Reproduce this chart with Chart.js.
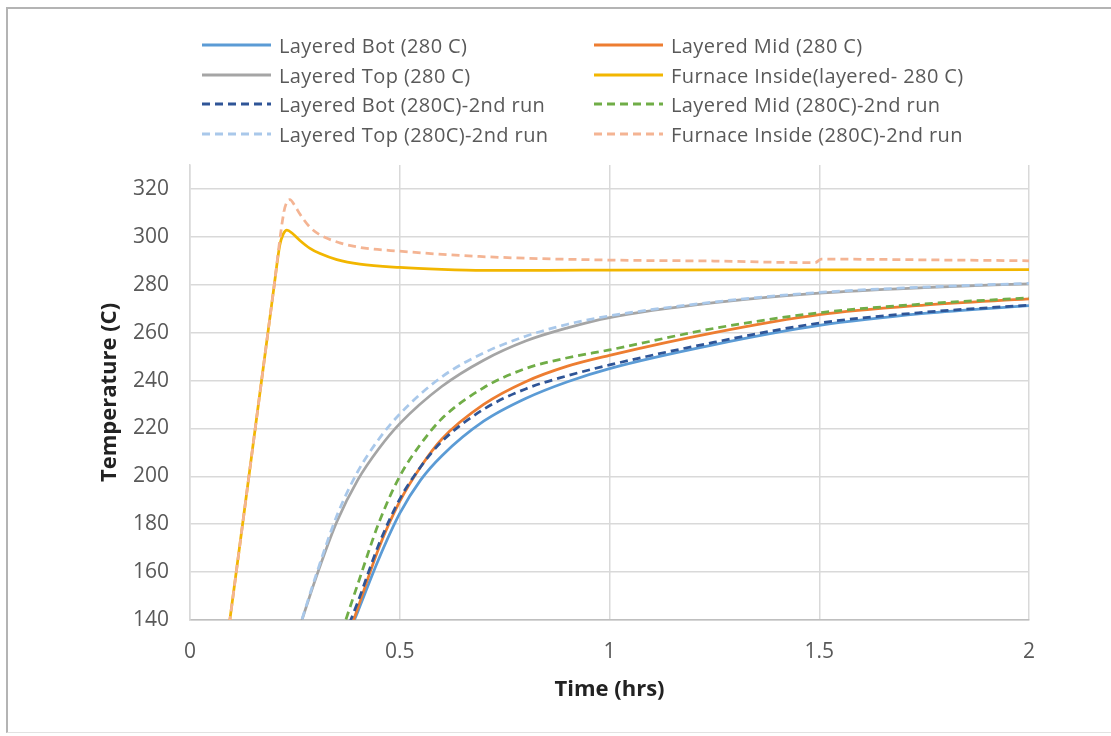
<!DOCTYPE html>
<html>
<head>
<meta charset="utf-8">
<script src="https://cdn.jsdelivr.net/npm/chart.js@4.4.1/dist/chart.umd.min.js"></script>
<style>
  html, body { margin: 0; padding: 0; background: #fff; }
  #wrap { position: relative; width: 1111px; height: 736px; overflow: hidden; }
  #frame { position: absolute; left: 6px; top: 7px; width: 1120px; height: 723px;
           border-left: 2px solid #b4b4b4; border-top: 2px solid #b4b4b4; border-bottom: 1px solid #e2e2e2; }
  #chart { position: absolute; left: 0; top: 0; }
  #legend { position: absolute; left: 0; top: 0; font-family: "Open Sans", sans-serif; font-size: 20px;
            letter-spacing: 0.4px; color: #595959; }
  .item { position: absolute; height: 28px; display: flex; align-items: center; white-space: nowrap; }
  .item svg { margin-right: 8px; }
</style>
</head>
<body>
<div id="wrap">
  <div id="frame"></div>
  <canvas id="chart" width="1111" height="736"></canvas>
  <div id="legend"></div>
</div>
<script>
// series names (legend order, two columns)
const seriesNames = [
  'Layered Bot (280 C)', 'Layered Mid (280 C)',
  'Layered Top (280 C)', 'Furnace Inside(layered- 280 C)',
  'Layered Bot (280C)-2nd run', 'Layered Mid (280C)-2nd run',
  'Layered Top (280C)-2nd run', 'Furnace Inside (280C)-2nd run'
];

// time (hrs) / temperature (C)
const botTime = [0, 0.2, 0.3, 0.35, 0.4, 0.45, 0.5, 0.55, 0.6, 0.7, 0.8, 0.9, 1.0, 1.25, 1.5, 1.75, 2.0];
const botTemp = [25, 55, 100, 122, 143.5, 165.5, 184.5, 198.5, 208.5, 223, 232.5, 239.5, 245, 255, 263, 268, 271.3];

const midTime = [0, 0.2, 0.3, 0.35, 0.4, 0.45, 0.5, 0.55, 0.6, 0.7, 0.8, 0.9, 1.0, 1.25, 1.5, 1.75, 2.0];
const midTemp = [25, 55, 98, 120, 145, 170, 189.5, 204, 215.5, 230, 239.5, 246, 250.5, 260, 267.5, 271.5, 274.1];

const topTime = [0, 0.1, 0.2, 0.25, 0.3, 0.35, 0.4, 0.45, 0.5, 0.6, 0.7, 0.8, 0.9, 1.0, 1.25, 1.5, 1.75, 2.0];
const topTemp = [25, 58, 106, 131, 157.5, 181, 198.5, 211.5, 222, 237.5, 248.5, 256.5, 262, 266.3, 272.5, 276.5, 278.8, 280.4];

const furnTime = [0, 0.095, 0.15, 0.2, 0.214, 0.222, 0.231, 0.245, 0.262, 0.286, 0.31, 0.35, 0.405, 0.5, 0.6, 0.7, 0.85, 1.0, 1.5, 2.0];
const furnTemp = [20, 140, 212.7, 278.8, 296.5, 301, 302.8, 301.3, 298.5, 295.2, 293, 290.5, 288.6, 287.2, 286.4, 286, 286, 286.1, 286.2, 286.3];

const bot2Time = [0, 0.2, 0.3, 0.35, 0.4, 0.45, 0.5, 0.55, 0.6, 0.7, 0.8, 0.9, 1.0, 1.25, 1.5, 1.75, 2.0];
const bot2Temp = [25, 57, 103, 125.5, 147.5, 171.5, 190.5, 204, 214.5, 228, 236.5, 242, 246.5, 256, 264, 268.5, 271.5];

const mid2Time = [0, 0.2, 0.3, 0.35, 0.4, 0.45, 0.5, 0.55, 0.6, 0.7, 0.8, 0.9, 1.0, 1.25, 1.5, 1.75, 2.0];
const mid2Temp = [25, 60, 105, 129, 155, 180.5, 200, 213.5, 224, 237, 245, 249.5, 252.8, 261.8, 268.3, 272, 274.5];

const top2Time = [0, 0.1, 0.2, 0.25, 0.3, 0.35, 0.4, 0.45, 0.5, 0.6, 0.7, 0.8, 0.9, 1.0, 1.25, 1.5, 1.75, 2.0];
const top2Temp = [25, 58, 106, 131, 158.5, 183.5, 202, 215.5, 226, 241.5, 251.5, 258.5, 263.5, 267, 272.8, 276.8, 279, 280.6];

const furn2Time = [0, 0.095, 0.15, 0.2, 0.224, 0.232, 0.238, 0.25, 0.262, 0.286, 0.31, 0.357, 0.405, 0.5, 0.69, 1.0, 1.25, 1.49, 1.505, 1.75, 2.0];
const furn2Temp = [20, 140, 212.7, 278.8, 310.5, 314.8, 315.5, 313, 309.5, 304, 300.8, 297.5, 295.6, 294, 291.8, 290.3, 289.9, 289.2, 290.7, 290.4, 290];

const xTicks = [0, 0.5, 1, 1.5, 2];

const colors = ['#5b9bd5', '#ed7d31', '#a5a5a5', '#f2b600', '#2f5597', '#70ad47', '#a9c8ea', '#f4b493'];
const dashed = [false, false, false, false, true, true, true, true];

const pts = (t, v) => t.map((x, i) => ({ x: x, y: v[i] }));
const series = [
  pts(botTime, botTemp), pts(midTime, midTemp), pts(topTime, topTemp), pts(furnTime, furnTemp),
  pts(bot2Time, bot2Temp), pts(mid2Time, mid2Temp), pts(top2Time, top2Temp), pts(furn2Time, furn2Temp)
];

const datasets = series.map((d, i) => ({
  label: seriesNames[i],
  data: d,
  borderColor: colors[i],
  borderWidth: 2.75,
  borderDash: dashed[i] ? [8, 5] : [],
  pointRadius: 0,
  fill: false,
  cubicInterpolationMode: 'monotone',
  order: 8 - i
}));

const grid = '#d9d9d9';
const tickFont = { family: '"Open Sans", sans-serif', size: 21 };
const titleFont = { family: '"Open Sans", sans-serif', size: 22, weight: 'bold' };

const chart = new Chart(document.getElementById('chart'), {
  type: 'line',
  data: { datasets: datasets },
  options: {
    responsive: false,
    animation: false,
    layout: { padding: { left: 97, top: 165, right: 82, bottom: 33 } },
    plugins: { legend: { display: false }, tooltip: { enabled: false } },
    scales: {
      x: {
        type: 'linear', min: 0, max: 2,
        afterBuildTicks: s => { s.ticks = xTicks.map(v => ({ value: v })); },
        afterFit: s => { s.height = 83; },
        grid: { color: grid, lineWidth: 1.5, drawTicks: false },
        border: { color: '#bfbfbf', width: 1.5 },
        ticks: { font: tickFont, color: '#595959', padding: 19, callback: v => String(v) },
        title: { display: true, text: 'Time (hrs)', font: titleFont, color: '#222', padding: 0 }
      },
      y: {
        min: 140, max: 330,
        ticks: { stepSize: 20, font: tickFont, color: '#595959', padding: 21 },
        afterBuildTicks: s => { s.ticks = s.ticks.filter(t => t.value <= 320); },
        afterFit: s => { s.width = 93; },
        grid: { color: grid, lineWidth: 1.5, drawTicks: false },
        border: { color: grid, width: 1.5 },
        title: { display: true, text: 'Temperature (C)', font: titleFont, color: '#222', padding: 0 }
      }
    }
  }
});

// two-column legend like the original
const legendCols = [202, 594];
const legendRows = [45, 75, 104, 134];
const legend = document.getElementById('legend');
chart.data.datasets.forEach((ds, i) => {
  const item = document.createElement('div');
  item.className = 'item';
  item.style.left = legendCols[i % 2] + 'px';
  item.style.top = (legendRows[Math.floor(i / 2)] - 14) + 'px';
  const dash = ds.borderDash.length ? ' stroke-dasharray="' + ds.borderDash.join(',') + '"' : '';
  item.innerHTML = '<svg width="69" height="6"><line x1="0" y1="3" x2="69" y2="3" stroke="' + ds.borderColor +
    '" stroke-width="3"' + dash + '/></svg><span>' + ds.label + '</span>';
  legend.appendChild(item);
});
</script>
</body>
</html>
